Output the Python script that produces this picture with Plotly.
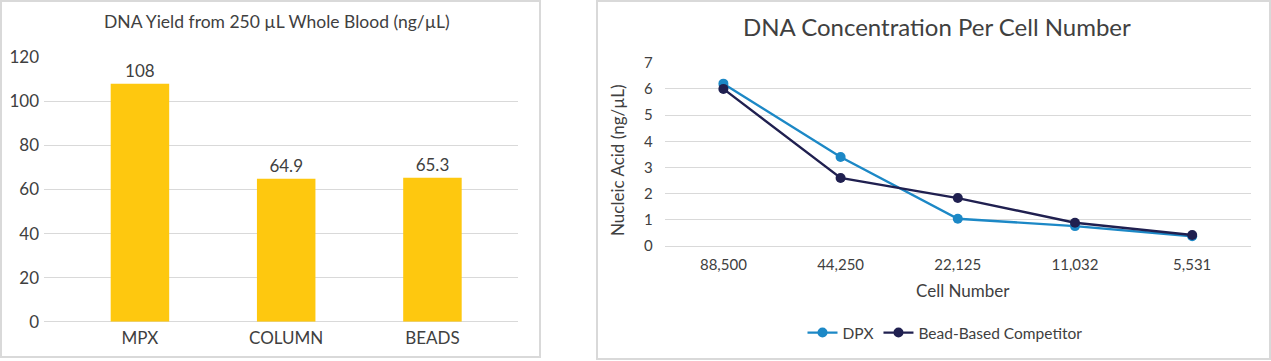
import plotly.graph_objects as go

# ---- data ----
bar_categories = ["MPX", "COLUMN", "BEADS"]
bar_values = [108, 64.9, 65.3]
bar_labels = ["108", "64.9", "65.3"]

cell_numbers = ["88,500", "44,250", "22,125", "11,032", "5,531"]
dpx_values = [6.2, 3.4, 1.04, 0.76, 0.37]
bead_values = [6.0, 2.6, 1.83, 0.89, 0.42]

W, H = 1271, 361
FONT = "Lato, 'Noto Sans', sans-serif"
TXT = "#404040"
GRID = "#D9D9D9"


def px(x):
    return x / W


def py(y):
    return (H - y) / H


fig = go.Figure()

fig.add_trace(go.Bar(
    x=bar_categories, y=bar_values, text=bar_labels,
    textposition="outside", cliponaxis=False,
    textfont=dict(size=17, color=TXT, family=FONT),
    marker=dict(color="#FEC80F", line=dict(width=0)),
    width=0.40, xaxis="x", yaxis="y", showlegend=False,
    hoverinfo="x+y",
))

fig.add_trace(go.Scatter(
    x=cell_numbers, y=dpx_values, name="DPX", mode="lines+markers",
    line=dict(color="#1C88C6", width=2.4), marker=dict(size=10, color="#1C88C6"),
    xaxis="x2", yaxis="y2",
))
fig.add_trace(go.Scatter(
    x=cell_numbers, y=bead_values, name="Bead-Based Competitor", mode="lines+markers",
    line=dict(color="#202050", width=2.4), marker=dict(size=10, color="#202050"),
    xaxis="x2", yaxis="y2",
))

fig.update_layout(
    template="none",
    width=W, height=H,
    autosize=False,
    margin=dict(l=0, r=0, t=0, b=0, pad=0, autoexpand=False),
    paper_bgcolor="white", plot_bgcolor="white",
    font=dict(family=FONT, color=TXT),
    xaxis=dict(
        type="category",
        domain=[px(44), px(518)], range=[-0.656, 2.585],
        showgrid=False, showline=False, zeroline=False, ticks="", ticklabelstandoff=4,
        tickfont=dict(size=17, color=TXT, family=FONT),
        anchor="y", fixedrange=True, automargin=False,
    ),
    yaxis=dict(
        domain=[py(321.7), py(57.3)], range=[0, 120],
        tickvals=[0, 20, 40, 60, 80, 100, 120],
        showgrid=True, gridcolor=GRID, gridwidth=1,
        zeroline=True, zerolinecolor=GRID, zerolinewidth=1,
        showline=False, ticks="", ticklabelstandoff=4,
        tickfont=dict(size=17, color=TXT, family=FONT),
        anchor="x", fixedrange=True, automargin=False,
    ),
    xaxis2=dict(
        type="category",
        domain=[px(664.8), px(1250.8)], range=[-0.5, 4.5],
        showgrid=False, showline=False, zeroline=False, ticks="", ticklabelstandoff=8,
        tickfont=dict(size=15, color=TXT, family=FONT),
        anchor="y2", fixedrange=True, automargin=False,
    ),
    yaxis2=dict(
        domain=[py(246), py(62.7)], range=[0, 7],
        tickvals=[0, 1, 2, 3, 4, 5, 6, 7],
        showgrid=True, gridcolor=GRID, gridwidth=1,
        zeroline=True, zerolinecolor=GRID, zerolinewidth=1,
        showline=False, ticks="", ticklabelstandoff=11,
        tickfont=dict(size=15, color=TXT, family=FONT),
        anchor="x2", fixedrange=True, automargin=False,
    ),
    showlegend=True,
    legend=dict(
        orientation="h", x=px(945), y=py(333), xanchor="center", yanchor="middle",
        font=dict(size=15.5, color=TXT, family=FONT), bgcolor="rgba(0,0,0,0)",
        itemwidth=30,
    ),
    shapes=[
        dict(type="rect", xref="paper", yref="paper",
             x0=px(1), x1=px(540), y0=py(357), y1=py(1),
             line=dict(color=GRID, width=2), fillcolor="rgba(0,0,0,0)", layer="below"),
        dict(type="rect", xref="paper", yref="paper",
             x0=px(597), x1=px(1270), y0=py(359), y1=py(1),
             line=dict(color=GRID, width=2), fillcolor="rgba(0,0,0,0)", layer="below"),
    ],
    annotations=[
        dict(text="DNA Yield from 250 µL Whole Blood (ng/µL)", xref="paper", yref="paper",
             x=px(277), y=py(21), xanchor="center", yanchor="middle", showarrow=False,
             font=dict(size=17.5, color=TXT, family=FONT)),
        dict(text="DNA Concentration Per Cell Number", xref="paper", yref="paper",
             x=px(937), y=py(27), xanchor="center", yanchor="middle", showarrow=False,
             font=dict(size=24, color=TXT, family=FONT)),
        dict(text="Cell Number", xref="paper", yref="paper",
             x=px(963), y=py(290), xanchor="center", yanchor="middle", showarrow=False,
             font=dict(size=17, color=TXT, family=FONT)),
        dict(text="Nucleic Acid (ng/µL)", xref="paper", yref="paper",
             x=px(617), y=py(161), xanchor="center", yanchor="middle", showarrow=False,
             textangle=-90, font=dict(size=17, color=TXT, family=FONT)),
    ],
)

fig.write_html(
    "out.html",
    config=dict(displayModeBar=False),
    post_script="document.body.style.margin='0';document.body.style.padding='0';",
)
